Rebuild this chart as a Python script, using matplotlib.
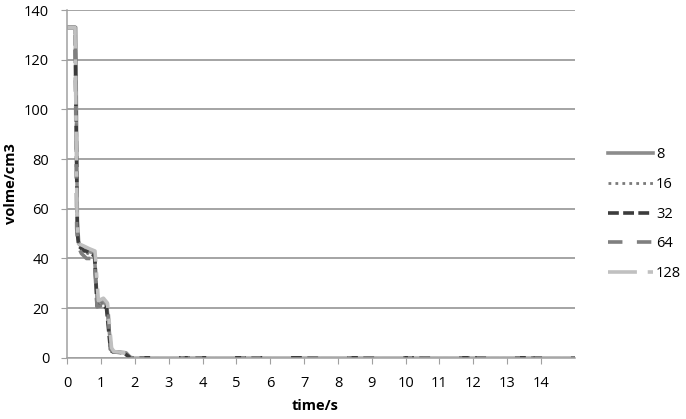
import matplotlib.pyplot as plt
import numpy as np

plt.rcParams['font.family'] = ['Open Sans', 'DejaVu Sans']

# series labels
labels = ['8', '16', '32', '64', '128']

# time (s) and volume (cm3) for each series
t8 = [0, 0.25, 0.30, 0.34, 0.47, 0.62, 0.80, 0.89, 1.04, 1.17, 1.29, 1.36, 1.74, 1.88, 15]
v8 = [133, 133, 55, 46, 44, 43, 42, 22, 23, 21, 4, 2.5, 2, 0, 0]

t16 = [0, 0.24, 0.29, 0.33, 0.44, 0.60, 0.82, 0.90, 1.02, 1.18, 1.30, 1.37, 1.72, 1.87, 15]
v16 = [133, 133, 56, 47, 44, 42, 41, 21, 22, 20, 3.5, 2.3, 2, 0, 0]

t32 = [0, 0.23, 0.30, 0.34, 0.50, 0.58, 0.81, 0.88, 1.07, 1.16, 1.28, 1.35, 1.67, 1.86, 15]
v32 = [133, 133, 50, 45, 43, 43, 41, 21, 21, 20, 3, 2.4, 2, 0, 0]

t64 = [0, 0.23, 0.28, 0.32, 0.42, 0.57, 0.80, 0.88, 1.00, 1.20, 1.27, 1.36, 1.77, 1.90, 15]
v64 = [133, 133, 52, 45, 42, 40, 40, 20.5, 21, 21, 3.5, 2.5, 2, 0, 0]

t128 = [0, 0.23, 0.29, 0.33, 0.49, 0.64, 0.82, 0.92, 1.07, 1.19, 1.31, 1.38, 1.80, 1.94, 15]
v128 = [133, 133, 57, 46, 45, 44, 43, 23, 24, 22, 4, 2.5, 2, 0, 0]

times = [t8, t16, t32, t64, t128]
vols = [v8, v16, v32, v64, v128]

colors = ['#8c8c8c', '#7a7a7a', '#3c3c3c', '#7f7f7f', '#c0c0c0']
styles = ['-', (0, (1, 1.5)), (0, (3, 1.2)), (0, (4, 4)), (0, (8, 3, 1.5, 3))]
widths = [2.6, 2.0, 2.6, 2.6, 2.6]

fig = plt.figure(figsize=(6.86, 4.19), dpi=100)
ax = fig.add_axes([0.098, 0.146, 0.74, 0.830])

for t, v, c, s, w, lab in zip(times, vols, colors, styles, widths, labels):
    ax.plot(t, v, color=c, linestyle=s, linewidth=w, label=lab)

ax.set_xlim(0, 15)
ax.set_ylim(0, 140)
ax.set_xticks(np.arange(0, 15, 1))
ax.set_yticks(np.arange(0, 141, 20))
ax.yaxis.grid(True, color='#8c8c8c', linewidth=1.1)
ax.set_axisbelow(True)
for sp in ['top', 'right']:
    ax.spines[sp].set_visible(False)
for sp in ['left', 'bottom']:
    ax.spines[sp].set_color('#a0a0a0')
    ax.spines[sp].set_linewidth(1.1)
ax.tick_params(axis='both', direction='out', length=4, color='#a0a0a0', labelsize=10.5, pad=9)

ax.set_xlabel('time/s', fontweight='bold', fontsize=10.5)
ax.set_ylabel('volme/cm3', fontweight='bold', fontsize=10.5)
ax.xaxis.set_label_coords((315 - 67) / 508, -(399 - 358) / 348)
ax.yaxis.set_label_coords(-(67 - 18) / 508, 0.5)

fig.legend(loc='center left', bbox_to_anchor=(0.886, 0.489), frameon=False,
           borderpad=0, borderaxespad=0,
           handlelength=3.1, handletextpad=0.2, labelspacing=1.0, fontsize=10.5)

fig.savefig('out.png', dpi=100)
